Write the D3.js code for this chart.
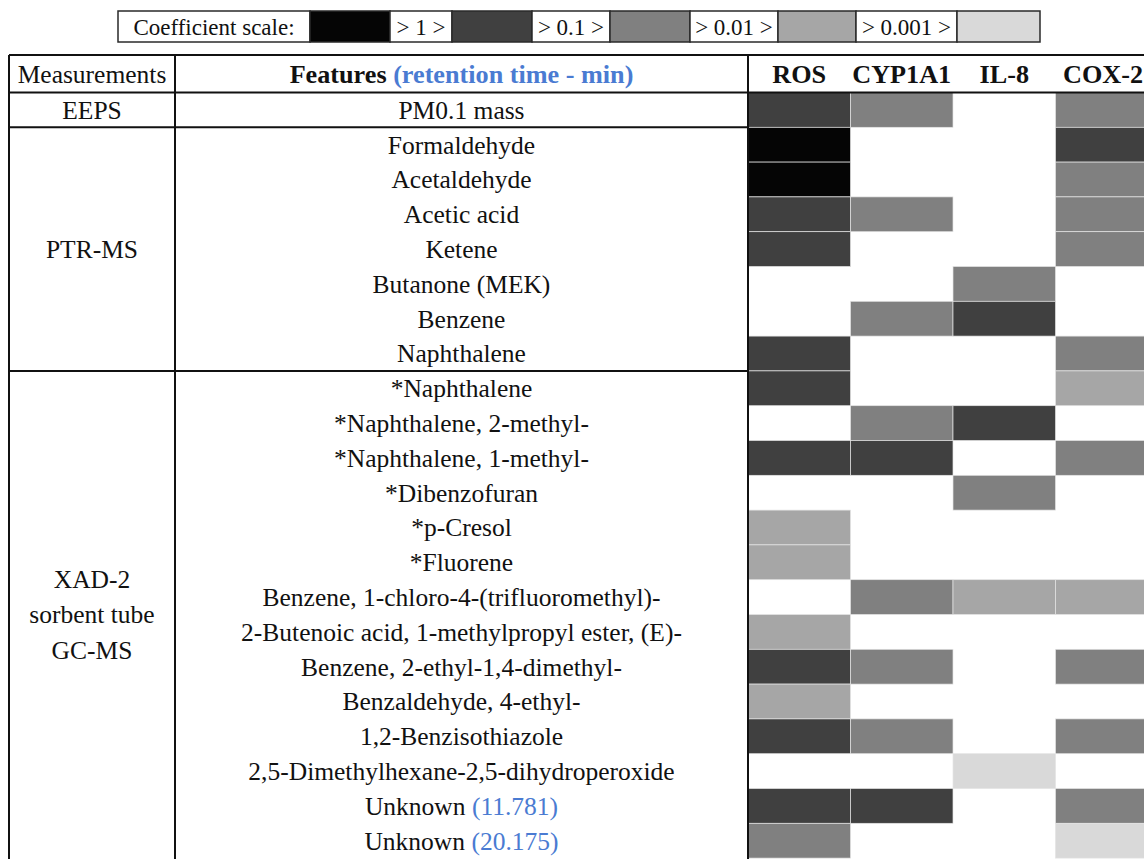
<!DOCTYPE html>
<html>
<head>
<meta charset="utf-8">
<script src="https://cdn.jsdelivr.net/npm/d3@7"></script>
<style>
  html, body { margin: 0; padding: 0; background: #fff; }
  svg { display: block; }
</style>
</head>
<body>
<svg id="chart" width="1144" height="859"></svg>
<script>
// ---- data ----
const assays = ["ROS", "CYP1A1", "IL-8", "COX-2"];

const featureNames = [
  "PM0.1 mass",
  "Formaldehyde", "Acetaldehyde", "Acetic acid", "Ketene",
  "Butanone (MEK)", "Benzene", "Naphthalene",
  "*Naphthalene", "*Naphthalene, 2-methyl-", "*Naphthalene, 1-methyl-",
  "*Dibenzofuran", "*p-Cresol", "*Fluorene",
  "Benzene, 1-chloro-4-(trifluoromethyl)-",
  "2-Butenoic acid, 1-methylpropyl ester, (E)-",
  "Benzene, 2-ethyl-1,4-dimethyl-", "Benzaldehyde, 4-ethyl-",
  "1,2-Benzisothiazole", "2,5-Dimethylhexane-2,5-dihydroperoxide",
  "Unknown", "Unknown"
];
// retention time (min) shown only for unidentified compounds
const retentionTimes = [
  null, null, null, null, null, null, null, null, null, null, null,
  null, null, null, null, null, null, null, null, null, "11.781", "20.175"
];

const measurementNames = [["EEPS"], ["PTR-MS"], ["XAD-2", "sorbent tube", "GC-MS"]];
const measurementSizes = [1, 7, 14];

// coefficient tier per feature: 5 = "> 1", 4 = "1–0.1", 3 = "0.1–0.01",
// 2 = "0.01–0.001", 1 = "< 0.001", 0 = not selected
const rosTier    = [4, 5, 5, 4, 4, 0, 0, 4, 4, 0, 4, 0, 2, 2, 0, 2, 4, 2, 4, 0, 4, 3];
const cyp1a1Tier = [3, 0, 0, 3, 0, 0, 3, 0, 0, 3, 4, 0, 0, 0, 3, 0, 3, 0, 3, 0, 4, 0];
const il8Tier    = [0, 0, 0, 0, 0, 3, 4, 0, 0, 4, 0, 3, 0, 0, 2, 0, 0, 0, 0, 1, 0, 0];
const cox2Tier   = [3, 4, 3, 3, 3, 0, 0, 3, 2, 0, 3, 0, 0, 0, 2, 0, 3, 0, 3, 0, 3, 1];

const scaleTiers = [5, 4, 3, 2, 1];
const scaleLabels = ["> 1 >", "> 0.1 >", "> 0.01 >", "> 0.001 >"];

// ---- drawing ----
const W = 1144, H = 859;
const serif = "'Liberation Serif', 'Times New Roman', 'DejaVu Serif', serif";
const svg = d3.select("#chart").attr("font-family", serif);
const ink = "#111";
const blue = "#4a7bd2";
const bodySize = "25.5px";
const headSize = "26.2px";

const tierColor = d3.scaleOrdinal()
  .domain([5, 4, 3, 2, 1])
  .range(["#050505", "#404040", "#808080", "#a6a6a6", "#d9d9d9"]);

const tiers = [rosTier, cyp1a1Tier, il8Tier, cox2Tier];
const cells = [];
featureNames.forEach((f, i) => {
  assays.forEach((a, j) => cells.push({ row: i, assay: a, tier: tiers[j][i] }));
});

// table geometry
const left = 9, measRight = 175, featRight = 748;
const headerTop = 55, headerBottom = 92.5, rowH = 34.8;

const y = d3.scaleBand()
  .domain(d3.range(featureNames.length))
  .range([headerBottom, headerBottom + rowH * featureNames.length]);

const x = d3.scaleBand()
  .domain(assays)
  .range([featRight, featRight + 102.5 * assays.length]);

// heat cells
svg.append("g").selectAll("rect")
  .data(cells.filter(d => d.tier > 0))
  .join("rect")
  .attr("x", d => x(d.assay))
  .attr("y", d => y(d.row))
  .attr("width", x.bandwidth())
  .attr("height", y.bandwidth())
  .attr("fill", d => tierColor(d.tier))
  .attr("stroke", "#e4e4e4")
  .attr("stroke-width", 0.7);

// feature labels
const featCx = (measRight + featRight) / 2;
const featText = svg.append("g").selectAll("text")
  .data(featureNames.map((name, i) => ({ name, rt: retentionTimes[i], i })))
  .join("text")
  .attr("x", featCx)
  .attr("y", d => y(d.i) + y.bandwidth() / 2)
  .attr("dy", "0.35em")
  .attr("text-anchor", "middle")
  .attr("fill", ink)
  .style("font-size", bodySize);
featText.append("tspan").text(d => d.name);
featText.filter(d => d.rt !== null)
  .append("tspan")
  .attr("fill", blue)
  .text(d => " (" + d.rt + ")");

// measurement group labels
let start = 0;
const groupBounds = measurementSizes.map(n => {
  const g = { top: y(start), bottom: y(start) + n * rowH };
  start += n;
  return g;
});
measurementNames.forEach((lines, k) => {
  const cy = (groupBounds[k].top + groupBounds[k].bottom) / 2;
  const t = svg.append("text")
    .attr("text-anchor", "middle")
    .attr("fill", ink)
    .style("font-size", bodySize);
  lines.forEach((ln, m) => {
    t.append("tspan")
      .attr("x", (left + measRight) / 2)
      .attr("y", cy + (m - (lines.length - 1) / 2) * 35.5)
      .attr("dy", "0.35em")
      .text(ln);
  });
});

// header
const headY = (headerTop + headerBottom) / 2;
svg.append("text")
  .attr("x", (left + measRight) / 2).attr("y", headY).attr("dy", "0.35em")
  .attr("text-anchor", "middle").attr("fill", ink).style("font-size", bodySize)
  .text("Measurements");
const fh = svg.append("text")
  .attr("x", featCx).attr("y", headY).attr("dy", "0.35em")
  .attr("text-anchor", "middle").attr("fill", ink)
  .style("font-size", headSize).style("font-weight", "bold");
fh.append("tspan").text("Features ");
fh.append("tspan").attr("fill", blue).text(" (retention time - min)");

svg.append("g").selectAll("text")
  .data(assays)
  .join("text")
  .attr("x", d => x(d) + x.bandwidth() / 2)
  .attr("y", headY).attr("dy", "0.35em")
  .attr("text-anchor", "middle").attr("fill", ink)
  .style("font-size", headSize).style("font-weight", "bold")
  .text(d => d)
  .each(function () {
    // keep the last header inside the canvas edge
    const w = this.getComputedTextLength();
    const cx = +this.getAttribute("x");
    if (cx + w / 2 > W - 1) this.setAttribute("x", W - 1 - w / 2);
  });

// table rules
const rules = svg.append("g").attr("stroke", ink).attr("stroke-width", 2);
[[left, headerTop, W, headerTop],
 [left, headerBottom, W, headerBottom],
 [left, groupBounds[0].bottom, featRight, groupBounds[0].bottom],
 [left, groupBounds[1].bottom, featRight, groupBounds[1].bottom],
 [left, headerTop, left, H],
 [measRight, headerTop, measRight, H],
 [featRight, headerTop, featRight, H]
].forEach(([x1, y1, x2, y2]) => {
  rules.append("line").attr("x1", x1).attr("y1", y1).attr("x2", x2).attr("y2", y2);
});

// coefficient scale legend
const legTop = 11, legH = 31;
const legItems = [{ type: "label", text: "Coefficient scale:", w: 192 }];
scaleTiers.forEach((t, k) => {
  legItems.push({ type: "swatch", tier: t, w: [80, 80, 80, 78, 83][k] });
  if (k < scaleLabels.length) legItems.push({ type: "label", text: scaleLabels[k], w: [62, 78, 88, 101][k] });
});
let lx = 118;
const leg = svg.append("g");
legItems.forEach(it => {
  leg.append("rect")
    .attr("x", lx).attr("y", legTop).attr("width", it.w).attr("height", legH)
    .attr("fill", it.type === "swatch" ? tierColor(it.tier) : "#fff")
    .attr("stroke", "#2a2a2a").attr("stroke-width", 1.5);
  if (it.type === "label") {
    leg.append("text")
      .attr("x", lx + it.w / 2).attr("y", legTop + legH / 2).attr("dy", "0.35em")
      .attr("text-anchor", "middle").attr("fill", ink).style("font-size", "23px")
      .text(it.text);
  }
  lx += it.w;
});
</script>
</body>
</html>
